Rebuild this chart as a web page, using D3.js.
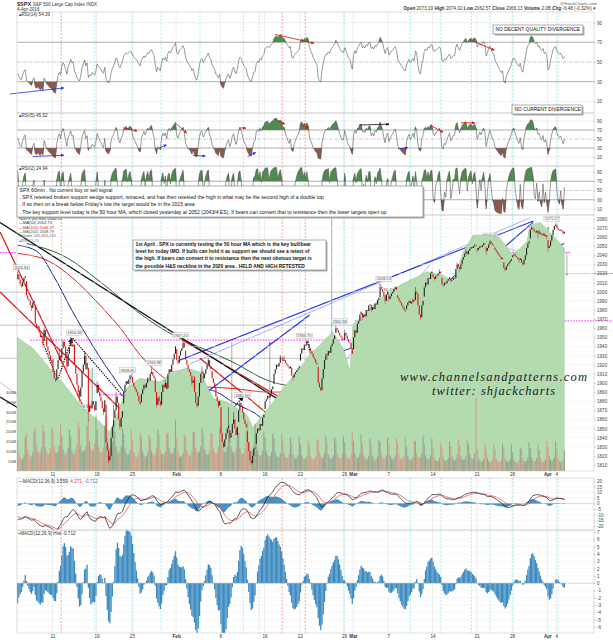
<!DOCTYPE html>
<html>
<head>
<meta charset="utf-8">
<script src="https://cdn.jsdelivr.net/npm/d3@7"></script>
<style>
  body { margin: 0; background: #fff; }
  text { font-family: "Liberation Sans", Arial, sans-serif; }
  text.mark { font-family: "Liberation Serif", "DejaVu Serif", serif; font-style: italic; }
</style>
</head>
<body>
<svg id="chart"></svg>
<script>
const tickDays = [4, 9, 13, 18, 23, 28, 32, 37, 38, 42, 47, 52, 56, 60, 61];
const tickLabels = ['11', '19', '25', 'Feb', '8', '16', '22', '29', 'Mar', '7', '14', '21', '28', 'Apr', '4'];

const dayOpen = [2013.78, 2011.71, 1985.32, 1945.97, 1926.12, 1927.83, 1940.34, 1891.68, 1916.68, 1888.66, 1876.18, 1861.46, 1877.4, 1906.28, 1878.79, 1902.52, 1885.22, 1894.0, 1936.94, 1935.26, 1907.07, 1911.67, 1913.07, 1873.25, 1848.46, 1857.1, 1847.0, 1833.4, 1871.44, 1898.8, 1927.57, 1916.74, 1924.44, 1942.38, 1917.56, 1931.87, 1954.95, 1947.13, 1937.09, 1976.6, 1985.6, 1994.01, 1996.11, 1996.11, 1981.44, 1990.97, 1994.71, 2019.27, 2015.27, 2014.24, 2026.9, 2041.16, 2047.88, 2048.64, 2048.55, 2032.48, 2037.89, 2035.75, 2058.27, 2063.77, 2056.62, 2073.19];
const dayHigh = [2021.94, 2011.71, 1985.32, 1960.4, 1935.65, 1947.38, 1950.33, 1934.47, 1916.68, 1901.44, 1876.18, 1889.85, 1908.85, 1906.28, 1906.28, 1916.98, 1902.96, 1940.24, 1947.2, 1935.26, 1918.01, 1927.35, 1913.07, 1873.25, 1868.25, 1881.6, 1847.0, 1864.78, 1895.77, 1930.68, 1930.0, 1918.78, 1946.7, 1942.38, 1932.08, 1951.83, 1962.96, 1958.27, 1978.35, 1986.51, 1993.69, 2009.13, 2006.12, 1996.11, 1992.69, 2005.08, 2022.37, 2024.57, 2015.94, 2032.02, 2046.24, 2052.36, 2053.91, 2056.6, 2048.55, 2036.04, 2042.67, 2055.91, 2072.21, 2067.92, 2075.07, 2074.02];
const dayLow = [2004.17, 1979.05, 1938.83, 1918.46, 1901.1, 1914.35, 1886.41, 1878.93, 1857.83, 1864.6, 1812.29, 1848.98, 1877.4, 1875.97, 1878.79, 1872.7, 1873.65, 1894.0, 1920.03, 1897.29, 1872.65, 1900.52, 1872.65, 1828.46, 1834.94, 1850.32, 1810.1, 1833.4, 1871.44, 1898.8, 1915.09, 1902.17, 1924.44, 1919.44, 1891.0, 1925.41, 1945.78, 1931.81, 1937.09, 1968.8, 1977.37, 1986.77, 1989.38, 1977.43, 1979.84, 1969.25, 1994.71, 2012.05, 2005.23, 2010.04, 2022.16, 2041.16, 2043.14, 2040.57, 2034.86, 2022.49, 2031.96, 2028.31, 2058.27, 2057.46, 2043.98, 2062.57];

// hourly closes before the window (only used to warm up the indicators)
const warmupCloses = [
  [2052, 2049, 2047, 2050, 2053, 2055, 2056],
  [2066, 2070, 2073, 2075, 2077, 2080, 2078],
  [2075, 2073, 2070, 2069, 2068, 2066, 2063],
  [2060, 2058, 2057, 2058, 2056, 2050, 2044],
  [2010, 1998, 1995, 2000, 2008, 2011, 2013],
];

const hourlyCloses = [
  [2019, 2013, 2008, 2006, 2011, 2015, 2017], [1996, 1992, 1990, 1985, 1982, 1988, 1990],
  [1965, 1960, 1962, 1955, 1950, 1952, 1943], [1958, 1950, 1940, 1935, 1930, 1925, 1922],
  [1912, 1905, 1903, 1915, 1925, 1930, 1924], [1938, 1945, 1940, 1930, 1918, 1932, 1939],
  [1948, 1940, 1942, 1920, 1910, 1898, 1890], [1885, 1895, 1912, 1920, 1930, 1915, 1922],
  [1868, 1875, 1872, 1880, 1876, 1870, 1880], [1898, 1890, 1885, 1880, 1872, 1868, 1881],
  [1835, 1826, 1815, 1820, 1840, 1852, 1859], [1870, 1885, 1878, 1860, 1852, 1862, 1869],
  [1890, 1898, 1902, 1899, 1904, 1908, 1907], [1900, 1896, 1893, 1890, 1886, 1880, 1877],
  [1888, 1893, 1898, 1895, 1900, 1905, 1904], [1910, 1912, 1908, 1905, 1890, 1876, 1883],
  [1880, 1876, 1890, 1898, 1895, 1900, 1893], [1910, 1915, 1912, 1920, 1926, 1932, 1940],
  [1925, 1922, 1930, 1935, 1938, 1944, 1939], [1925, 1920, 1915, 1912, 1908, 1900, 1903],
  [1890, 1878, 1875, 1885, 1900, 1910, 1913], [1905, 1910, 1915, 1920, 1925, 1918, 1915],
  [1905, 1900, 1895, 1885, 1880, 1875, 1880], [1845, 1835, 1830, 1838, 1845, 1850, 1853],
  [1840, 1845, 1855, 1860, 1850, 1843, 1852], [1870, 1878, 1875, 1868, 1860, 1855, 1852],
  [1835, 1825, 1815, 1812, 1820, 1828, 1829], [1845, 1850, 1848, 1855, 1853, 1862, 1865],
  [1880, 1882, 1886, 1884, 1888, 1893, 1896], [1910, 1915, 1920, 1918, 1922, 1928, 1927],
  [1924, 1925, 1922, 1920, 1918, 1916, 1918], [1908, 1906, 1910, 1912, 1914, 1916, 1918],
  [1932, 1938, 1936, 1942, 1941, 1946, 1945], [1938, 1935, 1932, 1928, 1926, 1922, 1921],
  [1900, 1895, 1892, 1905, 1915, 1925, 1930], [1930, 1935, 1933, 1940, 1943, 1948, 1952],
  [1960, 1958, 1955, 1952, 1950, 1948, 1948], [1955, 1952, 1948, 1945, 1944, 1938, 1932],
  [1950, 1958, 1955, 1965, 1968, 1975, 1978], [1972, 1975, 1973, 1980, 1979, 1985, 1986],
  [1980, 1983, 1981, 1987, 1986, 1991, 1993], [2005, 2003, 2000, 1995, 1990, 1997, 2000],
  [1992, 1995, 1998, 2000, 2003, 2005, 2002], [1993, 1990, 1988, 1985, 1983, 1980, 1979],
  [1985, 1988, 1990, 1987, 1989, 1991, 1989], [2000, 1998, 1985, 1975, 1972, 1985, 1990],
  [2005, 2010, 2008, 2015, 2014, 2020, 2022], [2016, 2014, 2017, 2018, 2020, 2022, 2020],
  [2008, 2007, 2010, 2009, 2012, 2014, 2016], [2012, 2013, 2015, 2015, 2025, 2030, 2027],
  [2025, 2030, 2035, 2038, 2042, 2044, 2041], [2045, 2047, 2049, 2048, 2050, 2051, 2050],
  [2046, 2048, 2050, 2049, 2051, 2053, 2052], [2045, 2048, 2052, 2055, 2053, 2051, 2050],
  [2046, 2044, 2042, 2040, 2038, 2036, 2037], [2026, 2024, 2028, 2030, 2032, 2034, 2036],
  [2040, 2041, 2039, 2038, 2036, 2035, 2037], [2032, 2030, 2035, 2040, 2048, 2053, 2055],
  [2068, 2070, 2069, 2066, 2065, 2067, 2064], [2065, 2063, 2062, 2064, 2061, 2062, 2060],
  [2048, 2050, 2056, 2062, 2068, 2072, 2073], [2070, 2068, 2067, 2068, 2066, 2064, 2066],
];

// hourly volume, millions
const hourlyVolume = [
  [150, 90, 70, 60, 60, 80, 170], [190, 110, 85, 70, 75, 95, 200], [220, 130, 100, 90, 95, 120, 230],
  [200, 120, 95, 85, 90, 115, 220], [210, 125, 95, 90, 100, 130, 240], [180, 110, 90, 80, 95, 120, 210],
  [175, 105, 90, 85, 110, 140, 250], [220, 130, 100, 95, 105, 125, 230], [260, 150, 115, 100, 110, 140, 280],
  [210, 130, 100, 90, 95, 120, 230], [280, 170, 130, 115, 120, 150, 260], [200, 125, 100, 90, 100, 125, 220],
  [190, 115, 90, 80, 85, 105, 210], [160, 95, 80, 70, 75, 95, 190], [170, 100, 80, 70, 75, 95, 185],
  [165, 100, 85, 75, 90, 120, 210], [185, 110, 90, 80, 85, 100, 195], [190, 115, 95, 85, 90, 115, 260],
  [170, 100, 80, 70, 75, 90, 180], [175, 105, 85, 75, 80, 100, 195], [200, 120, 100, 90, 100, 125, 220],
  [185, 110, 90, 80, 85, 105, 190], [190, 115, 95, 85, 95, 120, 210], [230, 135, 105, 95, 100, 125, 230],
  [210, 125, 100, 90, 95, 120, 215], [195, 115, 95, 85, 90, 115, 205], [250, 145, 110, 100, 105, 130, 240],
  [180, 105, 85, 75, 80, 100, 200], [170, 100, 80, 70, 75, 95, 190], [165, 95, 75, 68, 72, 90, 185],
  [150, 90, 72, 65, 70, 85, 170], [140, 85, 70, 62, 65, 80, 175], [135, 80, 65, 58, 62, 75, 160],
  [130, 78, 62, 55, 60, 75, 160], [160, 95, 75, 65, 70, 90, 180], [140, 85, 68, 60, 65, 80, 170],
  [150, 90, 70, 62, 68, 85, 175], [145, 85, 68, 60, 65, 85, 200], [150, 90, 72, 64, 70, 88, 185],
  [135, 80, 65, 58, 62, 78, 165], [130, 78, 62, 55, 60, 75, 160], [145, 85, 68, 60, 65, 80, 170],
  [135, 80, 65, 58, 62, 78, 165], [140, 82, 66, 60, 64, 80, 170], [125, 75, 60, 54, 58, 72, 155],
  [150, 90, 72, 64, 70, 88, 180], [135, 80, 65, 58, 62, 78, 165], [115, 68, 55, 50, 52, 65, 145],
  [120, 70, 56, 50, 54, 66, 150], [125, 72, 58, 52, 60, 85, 160], [130, 78, 62, 55, 60, 75, 160],
  [140, 85, 68, 60, 65, 90, 370], [110, 65, 52, 46, 50, 62, 140], [110, 65, 52, 46, 50, 62, 138],
  [108, 64, 50, 45, 48, 60, 140], [112, 66, 52, 46, 50, 62, 135], [95, 56, 45, 40, 42, 54, 120],
  [110, 65, 52, 46, 52, 68, 145], [115, 68, 54, 48, 52, 65, 140], [108, 64, 50, 45, 48, 60, 150],
  [125, 74, 58, 52, 56, 70, 150], [110, 64, 50, 45, 48, 60, 105],
];

// moving averages and the green overlay: [day, price]
const ma50 = [[0.1, 2051], [2.3, 2044], [4.1, 2018], [6.3, 1978], [8.3, 1945], [10.5, 1912], [13.1, 1883], [15.4, 1881], [18.1, 1885], [20.7, 1894], [22.6, 1890], [24.4, 1879], [26.7, 1868], [28.3, 1859], [29.8, 1862], [31.2, 1879], [33.1, 1894], [35.7, 1927], [39.6, 1945], [42.5, 1964], [45.2, 1985], [47.1, 1996], [50.9, 2015], [53.2, 2026], [55.4, 2037], [58.4, 2044], [60.3, 2048], [61.9, 2052.7]];
const ma100 = [[0.1, 2042], [3.7, 2033], [6.3, 2015], [9.4, 1985], [11.7, 1960], [13.9, 1931], [16.2, 1909], [18.1, 1898], [20.7, 1896], [24.4, 1894], [28.3, 1890], [31.2, 1890], [33.1, 1887], [35.7, 1894], [39.6, 1916], [43.3, 1949], [47.1, 1967], [50.9, 1989], [53.2, 2007], [55.4, 2018], [58.4, 2030], [61.9, 2044.3]];
const ma200 = [[1.1, 2053], [5.7, 2037], [9.4, 2011], [13.1, 1982], [17.0, 1956], [20.7, 1939], [24.4, 1923], [28.3, 1903], [32.0, 1896], [37.7, 1896], [43.3, 1920], [47.1, 1934], [50.9, 1949], [54.6, 1974], [58.4, 1993], [61.9, 2008.8]];
const greenArea = [[0, 1950], [1.8, 1938], [3.7, 1916], [5.7, 1894], [7.5, 1872], [9.4, 1857], [10.5, 1846], [11.3, 1865], [12.4, 1894], [13.9, 1905], [16.2, 1901], [17.6, 1912], [19.2, 1916], [20.7, 1912], [22.2, 1883], [23.8, 1879], [26.0, 1865], [26.7, 1851], [27.8, 1865], [29.0, 1879], [30.1, 1894], [32.0, 1916], [33.1, 1931], [33.9, 1938], [35.7, 1956], [36.9, 1938], [37.7, 1912], [38.0, 1964], [39.6, 1978], [41.1, 1993], [43.3, 2007], [46.4, 2022], [48.2, 2018], [49.3, 2011], [50.5, 2044], [51.6, 2062], [53.2, 2062], [54.6, 2059], [56.1, 2040], [57.7, 2055], [58.0, 2073], [59.2, 2076], [60.6, 2062], [61.9, 2048]];

// analyst trendlines: [day, price] pairs
const blackLines = [[[-1.92, 2076], [33.1, 1860]], [[-1.92, 1884.6], [10.5, 1812]]];
const redLines = [[[-1.92, 2065.5], [10.5, 1813]], [[-1.92, 1999.7], [13.9, 1850.6]], [[18.7, 1947], [33.1, 1865]], [[20.7, 1927], [32.0, 1837]]];
const thinRedLines = [[[-1.92, 1901], [10.5, 1810]], [[40.7, 2010.7], [45.2, 1971.2]]];
const blueLines = [[[10.5, 1810], [33.1, 1974.5]], [[18.4, 1925], [58.4, 2077.5]], [[26.7, 1810], [58.4, 2076.4]], [[26.7, 1810], [53.8, 2056.7]], [[14.3, 1850.6], [20.1, 1912]]];
const thinBlueLines = [[[19.6, 1921], [58.0, 2081]], [[26.7, 1810], [46.7, 2029.3]], [[10.5, 1810], [13.1, 1912]]];
const greyLines = [[[53.8, 2054.5], [58.4, 2037]], [[54.6, 2021.6], [58.4, 2032.6]]];
const dottedPaths = [
  [[2.9, 1945], [4.6, 1903], [6.2, 1949]],
  [[6.3, 1949], [18.7, 1810]],
  [[18.8, 1810], [25.6, 1885]],
  [[32.9, 1945], [34.0, 1894], [36.0, 1942]],
];
const magentaLines = [[-1.92, 0, 2043], [53.5, 62.6, 2043], [49.2, 67.4, 2020], [38.2, 67.4, 1968], [1.5, 39, 1947], [9.4, 20.7, 1887], [11.7, 20.7, 1871]];
const fibLevels = [[1927.07, '38.2% : 1927.07'], [1963.29, '50.0% : 1963.29'], [1999.49, '61.8% : 1999.49']];
const arrowsV = [[35.6, 1803, 2083], [28.6, 1810, 1945], [24.3, 1945, 1810], [22.7, 1835, 1810], [60.1, 2049, 2071], [62.2, 2043, 2018]];
const priceLabels = [[0, 'high'], [6, 'high'], [4, 'low'], [7, 'low'], [8, 'low'], [10, 'low'], [12, 'high'], [15, 'high'], [18, 'high'], [22, 'low'], [23, 'low'], [25, 'high'], [26, 'low'], [32, 'high'], [34, 'low'], [36, 'high'], [41, 'high'], [45, 'low'], [53, 'high'], [55, 'low'], [60, 'high']];

// RSI divergence arrows: [[day, rsi], [day, rsi], colour]
const rsi14Arrows = [[[-0.8, 17.5], [5.3, 23.6], 'blue'], [[29.2, 78], [33.6, 69], 'red'], [[51.1, 73], [54.0, 62], 'red']];
const rsi5Arrows = [
  [[12.0, 75], [13.6, 68], 'red'], [[17.9, 86], [19.2, 63], 'red'], [[25.1, 75], [25.9, 74], 'red'],
  [[29.2, 94], [30.3, 83], 'red'], [[32.1, 81], [33.0, 74], 'red'], [[38.7, 81], [42.1, 83], 'black'],
  [[46.7, 81], [48.2, 65], 'red'], [[50.2, 86], [51.8, 86], 'red'],
  [[1.8, 11], [5.3, 14], 'blue'], [[16.0, 29], [16.9, 37], 'blue'], [[19.9, 14], [21.3, 12], 'blue'],
  [[26.1, 11], [27.0, 20], 'blue'], [[43.1, 28], [44.2, 31], 'blue'],
];
const redMarkerDays = [5.0, 30.0, 32.6];
const cyanMarkerDays = [8.8, 13.1, 16.3, 20.7, 25.6, 27.4, 37.0, 44.5, 47.96, 51.4, 53.5, 56.1, 61.2];

// ---- layout ----
const W = 613, H = 640;
const PLOT = { left: 17, right: 594 };
const PANEL = {
  rsi14: [12, 113], rsi5: [113, 166], rsi2: [166, 215],
  price: [215, 471], macd: [478, 530], hist: [530, 633],
};
const COLORS = { red: '#e01010', blue: '#1f2fe0', black: '#111', green: '#4f8a4f', brown: '#8a5a50' };

const x = d3.scaleLinear([0, 65.27], [PLOT.left, PLOT.right]);
const y = {
  rsi14: d3.scaleLinear([0, 100], [111.2, 12.7]),
  rsi5: d3.scaleLinear([0, 100], [161.5, 116.5]),
  rsi2: d3.scaleLinear([0, 100], [213.6, 167.4]),
  price: d3.scaleLinear([1810, 2080], [465, 218.8]),
  vol: d3.scaleLinear([0, 400], [471, 392]),
  macd: d3.scaleLinear([-20, 20], [526, 481]),
  hist: d3.scaleLinear([-6, 7], [627, 532]),
};

// ---- indicators ----
const rsi = (vals, n) => {
  let ag = 0, al = 0;
  return vals.map((v, i) => {
    if (i === 0) return 50;
    const ch = v - vals[i - 1], g = Math.max(ch, 0), l = Math.max(-ch, 0);
    if (i <= n) { ag += g / n; al += l / n; } else { ag = (ag * (n - 1) + g) / n; al = (al * (n - 1) + l) / n; }
    return al === 0 ? 100 : 100 - 100 / (1 + ag / al);
  });
};
const ema = (vals, n) => { const k = 2 / (n + 1); let e = vals[0]; return vals.map((v) => (e = v * k + e * (1 - k))); };

const allCloses = warmupCloses.flat().concat(hourlyCloses.flat());
const skip = warmupCloses.flat().length;
const rsi14 = rsi(allCloses, 14).slice(skip);
const rsi5 = rsi(allCloses, 5).slice(skip);
const rsi2 = rsi(allCloses, 2).slice(skip);
const e12 = ema(allCloses, 12), e26 = ema(allCloses, 26);
const macdAll = e12.map((v, i) => v - e26[i]);
const sigAll = ema(macdAll, 9);
const macd = macdAll.slice(skip), signal = sigAll.slice(skip);
const hist = macd.map((v, i) => v - signal[i]);

const bars = hourlyCloses.flatMap((day, d) => day.map((c, h) => ({
  i: d * 7 + h, d, h, c, o: h === 0 ? dayOpen[d] : day[h - 1], v: hourlyVolume[d][h],
})));
const xBar = (i) => x(i / 7 + 1 / 14);

// ---- svg ----
const svg = d3.select('#chart').attr('width', W).attr('height', H);
svg.append('rect').attr('width', W).attr('height', H).attr('fill', '#fff');
const defs = svg.append('defs');
Object.entries({ red: COLORS.red, blue: COLORS.blue, black: '#111', grey: '#555' }).forEach(([k, c]) => {
  defs.append('marker').attr('id', `arrow-${k}`).attr('viewBox', '0 0 10 10').attr('refX', 9).attr('refY', 5)
    .attr('markerWidth', 4).attr('markerHeight', 4).attr('orient', 'auto-start-reverse')
    .append('path').attr('d', 'M0,0L10,5L0,10z').attr('fill', c);
});
Object.entries(PANEL).forEach(([k, [t, b]]) => {
  defs.append('clipPath').attr('id', `clip-${k}`).append('rect')
    .attr('x', PLOT.left).attr('y', t).attr('width', PLOT.right - PLOT.left).attr('height', b - t);
});
defs.append('clipPath').attr('id', 'clip-main-wide').append('rect').attr('x', 0).attr('y', 215).attr('width', W).attr('height', 256);

const fontSmall = 4.6;

// panel frames & grids
const drawPanelFrame = (key) => {
  const [t, b] = PANEL[key];
  svg.append('rect').attr('x', PLOT.left).attr('y', t).attr('width', PLOT.right - PLOT.left).attr('height', b - t)
    .attr('fill', 'none').attr('stroke', '#c8c8c8').attr('stroke-width', 0.6);
};

const verticalGuides = () => {
  const g = svg.append('g');
  Object.keys(PANEL).forEach((key) => {
    const [t, b] = PANEL[key];
    g.selectAll(null).data(tickDays).join('line').attr('x1', (d) => x(d)).attr('x2', (d) => x(d))
      .attr('y1', t).attr('y2', b).attr('stroke', '#e2e2e2').attr('stroke-width', 0.6);
    g.selectAll(null).data(cyanMarkerDays).join('line').attr('x1', (d) => x(d)).attr('x2', (d) => x(d))
      .attr('y1', t).attr('y2', b).attr('stroke', '#66e0ee').attr('stroke-width', 0.6).attr('stroke-dasharray', '2,1.5');
    g.selectAll(null).data(redMarkerDays).join('line').attr('x1', (d) => x(d)).attr('x2', (d) => x(d))
      .attr('y1', t).attr('y2', b).attr('stroke', '#f06060').attr('stroke-width', 0.6).attr('stroke-dasharray', '2,1.5');
  });
};

const rightAxis = (scale, values, fmt) => {
  const g = svg.append('g').attr('transform', `translate(${PLOT.right},0)`)
    .call(d3.axisRight(scale).tickValues(values).tickSize(1.5).tickPadding(1.5).tickFormat(fmt || ((d) => d)));
  g.select('.domain').remove();
  g.selectAll('line').attr('stroke', '#999').attr('stroke-width', 0.5);
  g.selectAll('text').attr('font-size', fontSmall).attr('fill', '#444');
};

const bottomAxis = (yPos) => {
  const g = svg.append('g').attr('transform', `translate(0,${yPos})`)
    .call(d3.axisBottom(x).tickValues(tickDays).tickSize(0).tickPadding(2).tickFormat((d, i) => tickLabels[i]));
  g.select('.domain').remove();
  g.selectAll('text').attr('font-size', fontSmall).attr('fill', '#333')
    .attr('font-weight', (d, i) => (/[A-Z]/.test(tickLabels[i]) ? 'bold' : 'normal'));
};

verticalGuides();

// ---- RSI panels ----
const rsiPanel = (key, values, title, arrows) => {
  const ys = y[key];
  const g = svg.append('g');
  [90, 10].forEach((v) => g.append('line').attr('x1', PLOT.left).attr('x2', PLOT.right).attr('y1', ys(v)).attr('y2', ys(v)).attr('stroke', '#e4e4e4').attr('stroke-width', 0.6));
  [70, 30].forEach((v) => g.append('line').attr('x1', PLOT.left).attr('x2', PLOT.right).attr('y1', ys(v)).attr('y2', ys(v)).attr('stroke', '#9a9a9a').attr('stroke-width', 0.8));
  g.append('line').attr('x1', PLOT.left).attr('x2', PLOT.right).attr('y1', ys(50)).attr('y2', ys(50)).attr('stroke', '#aaa').attr('stroke-width', 0.6).attr('stroke-dasharray', '3,1,1,1');
  const c = g.append('g').attr('clip-path', `url(#clip-${key})`);
  c.append('path').datum(values).attr('fill', COLORS.green)
    .attr('d', d3.area().x((v, i) => xBar(i)).y0(ys(70)).y1((v) => ys(Math.max(v, 70))));
  c.append('path').datum(values).attr('fill', COLORS.brown)
    .attr('d', d3.area().x((v, i) => xBar(i)).y0(ys(30)).y1((v) => ys(Math.min(v, 30))));
  c.append('path').datum(values).attr('fill', 'none').attr('stroke', '#555').attr('stroke-width', 0.6)
    .attr('d', d3.line().x((v, i) => xBar(i)).y((v) => ys(v)));
  arrows.forEach(([a, b, col]) => {
    g.append('line').attr('x1', x(a[0])).attr('y1', ys(a[1])).attr('x2', x(b[0])).attr('y2', ys(b[1]))
      .attr('stroke', COLORS[col]).attr('stroke-width', 0.8).attr('marker-end', `url(#arrow-${col})`);
  });
  drawPanelFrame(key);
  rightAxis(ys, [90, 70, 50, 30, 10]);
  svg.append('text').attr('x', PLOT.left + 1.5).attr('y', PANEL[key][0] + 4.2).attr('font-size', fontSmall).attr('fill', '#333').text(title);
};

rsiPanel('rsi14', rsi14, '\u25B4RSI(14) 54.39', rsi14Arrows);
rsiPanel('rsi5', rsi5, '\u25B4RSI(5) 45.52', rsi5Arrows);
rsiPanel('rsi2', rsi2, '\u25B4RSI(2) 24.94', []);

// ---- price panel ----
const yp = y.price;
const pLine = d3.line().x((p) => x(p[0])).y((p) => yp(p[1]));
const main = svg.append('g').attr('clip-path', 'url(#clip-main-wide)');
const inner = svg.append('g').attr('clip-path', 'url(#clip-price)');

inner.selectAll(null).data(d3.range(1810, 2081, 10)).join('line')
  .attr('x1', PLOT.left).attr('x2', PLOT.right).attr('y1', (v) => yp(v)).attr('y2', (v) => yp(v))
  .attr('stroke', '#f0f0f0').attr('stroke-width', 0.5);

inner.append('path').datum(greenArea).attr('fill', '#b4dbb0').attr('stroke', '#8fc38a').attr('stroke-width', 0.5)
  .attr('d', d3.area().x((p) => x(p[0])).y0(PANEL.price[1]).y1((p) => yp(p[1])));

inner.selectAll(null).data(bars).join('rect')
  .attr('x', (b) => xBar(b.i) - 0.55).attr('width', 1.1)
  .attr('y', (b) => y.vol(b.v)).attr('height', (b) => y.vol(0) - y.vol(b.v))
  .attr('fill', (b) => (b.c >= b.o ? '#8e9b8c' : '#d29484')).attr('opacity', 0.85);

fibLevels.forEach(([v, label]) => {
  main.append('line').attr('x1', x(-1.92)).attr('x2', x(44.8)).attr('y1', yp(v)).attr('y2', yp(v)).attr('stroke', '#9a9a9a').attr('stroke-width', 0.6);
  main.append('text').attr('x', x(44.8)).attr('y', yp(v) - 1).attr('text-anchor', 'end').attr('font-size', 4).attr('fill', '#666').text(label);
});

magentaLines.forEach(([a, b, v]) => {
  main.append('line').attr('x1', x(a)).attr('x2', x(b)).attr('y1', yp(v)).attr('y2', yp(v))
    .attr('stroke', '#ff30ff').attr('stroke-width', 1).attr('stroke-dasharray', '1.6,1.2');
});

[[ma200, '#2f5f2f'], [ma100, '#d82020'], [ma50, '#23238a']].forEach(([pts, col]) => {
  main.append('path').datum(pts).attr('fill', 'none').attr('stroke', col).attr('stroke-width', 1)
    .attr('d', pLine.curve(d3.curveMonotoneX));
});
pLine.curve(d3.curveLinear);

// candles
const candle = inner.append('g');
candle.selectAll(null).data(bars).join('rect')
  .attr('x', (b) => xBar(b.i) - 0.55).attr('width', 1.1)
  .attr('y', (b) => yp(Math.max(b.o, b.c)))
  .attr('height', (b) => Math.max(0.7, Math.abs(yp(b.o) - yp(b.c))))
  .attr('fill', (b) => (b.c >= b.o ? '#222' : '#dd1111'));
hourlyCloses.forEach((day, d) => {
  const hi = day.indexOf(d3.max(day)), lo = day.indexOf(d3.min(day));
  const bh = bars[d * 7 + hi], bl = bars[d * 7 + lo];
  candle.append('line').attr('x1', xBar(bh.i)).attr('x2', xBar(bh.i)).attr('y1', yp(dayHigh[d])).attr('y2', yp(Math.max(bh.o, bh.c)))
    .attr('stroke', bh.c >= bh.o ? '#222' : '#dd1111').attr('stroke-width', 0.5);
  candle.append('line').attr('x1', xBar(bl.i)).attr('x2', xBar(bl.i)).attr('y1', yp(dayLow[d])).attr('y2', yp(Math.min(bl.o, bl.c)))
    .attr('stroke', bl.c >= bl.o ? '#222' : '#dd1111').attr('stroke-width', 0.5);
});

// trendlines
const drawLines = (lines, col, w, dash) => lines.forEach((pts) => {
  main.append('path').datum(pts).attr('fill', 'none').attr('stroke', col).attr('stroke-width', w)
    .attr('stroke-dasharray', dash || null).attr('d', pLine);
});
drawLines(greyLines, '#999', 0.6);
drawLines(thinRedLines, '#f07070', 0.6);
drawLines(thinBlueLines, '#6a78f0', 0.6);
drawLines(redLines, COLORS.red, 1.2);
drawLines(blueLines, COLORS.blue, 1.1);
drawLines(blackLines, '#111', 1.3);
dottedPaths.forEach((pts) => {
  main.append('path').datum(pts).attr('fill', 'none').attr('stroke', '#111').attr('stroke-width', 1.3)
    .attr('stroke-dasharray', '1.3,1.1').attr('marker-end', 'url(#arrow-black)').attr('d', pLine);
});
arrowsV.forEach(([d, a, b]) => {
  main.append('line').attr('x1', x(d)).attr('x2', x(d)).attr('y1', yp(a)).attr('y2', yp(b))
    .attr('stroke', '#555').attr('stroke-width', 0.5).attr('marker-end', 'url(#arrow-grey)');
});

// high / low labels
priceLabels.forEach(([d, kind]) => {
  const v = kind === 'high' ? dayHigh[d] : dayLow[d];
  const cx = x(d + 0.5), cy = kind === 'high' ? yp(v) - 4.5 : yp(v) + 4.5;
  main.append('rect').attr('x', cx - 8).attr('y', cy - 2.6).attr('width', 16).attr('height', 5.2)
    .attr('fill', '#f6f6f6').attr('stroke', '#aaa').attr('stroke-width', 0.4);
  main.append('text').attr('x', cx).attr('y', cy + 1.5).attr('text-anchor', 'middle').attr('font-size', 3.9).attr('fill', '#555').text(v.toFixed(2));
});

drawPanelFrame('price');
rightAxis(yp, d3.range(1810, 2081, 10));
const volAxis = svg.append('g').attr('transform', `translate(${PLOT.left},0)`)
  .call(d3.axisLeft(y.vol).tickValues([50, 100, 150, 200, 250, 300, 350, 400]).tickSize(0).tickPadding(1).tickFormat((d) => `${d}M`));
volAxis.select('.domain').remove();
volAxis.selectAll('text').attr('font-size', 4).attr('fill', '#444');
bottomAxis(PANEL.price[1]);

// legend
const legend = [
  ['\u25AA$SPX (60 min) 2066.13', '#222'], ['\u2014MA(50) 2052.73', '#23238a'], ['\u2014MA(100) 2044.27', '#d82020'],
  ['\u2014MA(200) 2008.79', '#2f5f2f'], ['Volume 105,463,216', '#666'], ['\u25B4RSI 61.74', '#4f8a4f'],
];
legend.forEach(([t, c], i) => svg.append('text').attr('x', 19).attr('y', 220 + i * 4.3).attr('font-size', 4).attr('fill', c).text(t));

// ---- MACD panels ----
const ym = y.macd, yh = y.hist;
const mg = svg.append('g').attr('clip-path', 'url(#clip-macd)');
[-20, -15, -10, -5, 5, 10, 15, 20].forEach((v) => mg.append('line').attr('x1', PLOT.left).attr('x2', PLOT.right).attr('y1', ym(v)).attr('y2', ym(v)).attr('stroke', '#eee').attr('stroke-width', 0.5));
mg.append('line').attr('x1', PLOT.left).attr('x2', PLOT.right).attr('y1', ym(0)).attr('y2', ym(0)).attr('stroke', '#bbb').attr('stroke-width', 0.5);
mg.append('path').datum(hist).attr('fill', '#4a90c4').attr('d', d3.area().x((v, i) => xBar(i)).y0(ym(0)).y1((v) => ym(v)));
mg.append('path').datum(signal).attr('fill', 'none').attr('stroke', '#e04040').attr('stroke-width', 0.7).attr('d', d3.line().x((v, i) => xBar(i)).y((v) => ym(v)));
mg.append('path').datum(macd).attr('fill', 'none').attr('stroke', '#111').attr('stroke-width', 0.7).attr('d', d3.line().x((v, i) => xBar(i)).y((v) => ym(v)));
drawPanelFrame('macd');
rightAxis(ym, [20, 15, 10, 5, 0, -5, -10, -15, -20]);
const mt = svg.append('text').attr('x', PLOT.left + 1.5).attr('y', PANEL.macd[0] + 4.5).attr('font-size', fontSmall).attr('fill', '#333');
mt.append('tspan').text('\u2014MACD(12,26,9) 3.559, ');
mt.append('tspan').attr('fill', '#e04040').text('4.271, ');
mt.append('tspan').attr('fill', '#4a70d0').text('-0.712');

const hg = svg.append('g').attr('clip-path', 'url(#clip-hist)');
d3.range(-6, 8).filter((v) => v !== 0).forEach((v) => hg.append('line').attr('x1', PLOT.left).attr('x2', PLOT.right).attr('y1', yh(v)).attr('y2', yh(v)).attr('stroke', '#eee').attr('stroke-width', 0.5));
hg.selectAll(null).data(hist).join('rect')
  .attr('x', (v, i) => xBar(i) - 0.65).attr('width', 1.3)
  .attr('y', (v) => Math.min(yh(v), yh(0))).attr('height', (v) => Math.abs(yh(v) - yh(0)))
  .attr('fill', '#3d8bc0');
hg.append('line').attr('x1', PLOT.left).attr('x2', PLOT.right).attr('y1', yh(0)).attr('y2', yh(0)).attr('stroke', '#aaa').attr('stroke-width', 0.5);
drawPanelFrame('hist');
rightAxis(yh, d3.range(-6, 8));
svg.append('text').attr('x', PLOT.left + 1.5).attr('y', PANEL.hist[0] + 4.5).attr('font-size', fontSmall).attr('fill', '#333').text('\u25AAMACD(12,26,9) Hist -0.712');
bottomAxis(PANEL.hist[1]);

// ---- header ----
const h1 = svg.append('text').attr('x', PLOT.left).attr('y', 5.5).attr('font-size', 4.5).attr('fill', '#333');
h1.append('tspan').attr('font-weight', 'bold').attr('font-size', 5.6).text('$SPX ');
h1.append('tspan').text('S&P 500 Large Cap Index  INDX');
svg.append('text').attr('x', PLOT.left).attr('y', 10.5).attr('font-size', 4.5).attr('fill', '#333').text('4-Apr-2016');
svg.append('text').attr('x', PLOT.right + 3).attr('y', 5).attr('text-anchor', 'end').attr('font-size', 4.3).attr('fill', '#555').text('@StockCharts.com');
const quote = [['Open', '2073.19'], ['High', '2074.02'], ['Low', '2062.57'], ['Close', '2066.13'], ['Volume', '2.0B'], ['Chg', '-6.48 (-0.32%) \u25BE']];
const qt = svg.append('text').attr('x', PLOT.right + 2).attr('y', 10).attr('text-anchor', 'end').attr('font-size', 4.6).attr('fill', '#333');
quote.forEach(([k, v]) => { qt.append('tspan').attr('font-weight', 'bold').text(`${k} `); qt.append('tspan').text(`${v}  `); });

// ---- annotation boxes ----
const noteBox = (bx, by, bw, bh, lines, size, weight, first, step) => {
  const g = svg.append('g');
  g.append('rect').attr('x', bx + 1.5).attr('y', by + 1.5).attr('width', bw).attr('height', bh).attr('fill', '#b0b0b0');
  g.append('rect').attr('x', bx).attr('y', by).attr('width', bw).attr('height', bh).attr('fill', '#fff').attr('stroke', '#777').attr('stroke-width', 0.6);
  lines.forEach((t, i) => g.append('text').attr('x', bx + 2.5).attr('y', by + first + i * step)
    .attr('font-size', size).attr('font-weight', weight).attr('fill', '#111').text(t));
};
noteBox(493, 25, 90, 9, ['NO DECENT QUALITY DIVERGENCE'], 4.9, 'normal', 6.3, 0);
noteBox(512, 105, 70, 9, ['NO CURRENT DIVERGENCE'], 4.9, 'normal', 6.3, 0);
noteBox(17, 186, 406, 31, [
  'SPX 60min . No current buy or sell signal',
  '. SPX retested broken support wedge support, retraced, and has then retested the high in what may be the second high of a double top',
  '. If so then on a break below Friday\'s low the target would be in the 2015 area',
  '. The key support level today is the 50 hour MA, which closed yesterday at 2052 (2043/4 ES). If bears can convert that to resistance then the lower targets open up',
], 5.1, 'normal', 6.2, 7.1);
noteBox(133, 240, 193, 30, [
  '1st April . SPX is currently testing the 50 hour MA which is the key bull/bear',
  'level for today IMO. If bulls can hold it as support we should see a retest of',
  'the high. If bears can convert it to resistance then the next obvious target is',
  'the possible H&S neckline in the 2020 area . HELD AND HIGH RETESTED',
], 4.9, 'bold', 6.2, 7.1);

// ---- watermark ----
svg.append('text').attr('class', 'mark').attr('x', 400).attr('y', 381).attr('textLength', 187).attr('lengthAdjust', 'spacing')
  .attr('font-size', 12.5).attr('fill', '#1a1a1a').text('www.channelsandpatterns.com');
svg.append('text').attr('class', 'mark').attr('x', 432).attr('y', 395).attr('textLength', 123).attr('lengthAdjust', 'spacing')
  .attr('font-size', 12.5).attr('fill', '#1a1a1a').text('twitter: shjackcharts');
</script>
</body>
</html>
